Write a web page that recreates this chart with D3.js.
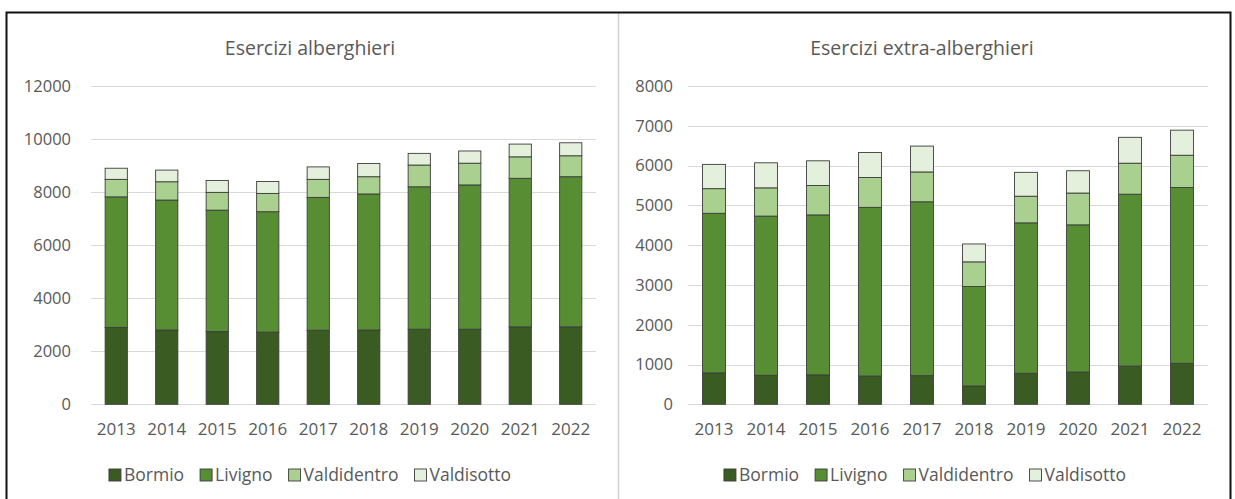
<!DOCTYPE html>
<html>
<head>
<meta charset="utf-8">
<script src="https://cdn.jsdelivr.net/npm/d3@7"></script>
<style>
  html, body { margin: 0; padding: 0; background: #fff; }
  svg { display: block; }
  text { font-family: "Open Sans", "Noto Sans", sans-serif; fill: #595959; }
</style>
</head>
<body>
<svg id="chart" width="1235" height="499"></svg>
<script>
const years = ["2013","2014","2015","2016","2017","2018","2019","2020","2021","2022"];
const seriesNames = ["Bormio", "Livigno", "Valdidentro", "Valdisotto"];
const seriesColors = ["#3a5c22", "#578e34", "#a9d08e", "#e4f0db"];

// Esercizi alberghieri
const albBormio      = [2900, 2800, 2740, 2720, 2790, 2800, 2830, 2830, 2920, 2920];
const albLivigno     = [4920, 4900, 4580, 4540, 5010, 5130, 5370, 5440, 5600, 5660];
const albValdidentro = [660, 690, 670, 690, 680, 650, 820, 820, 810, 790];
const albValdisotto  = [420, 440, 450, 450, 470, 500, 440, 460, 480, 490];
const albTicks = [0, 2000, 4000, 6000, 8000, 10000, 12000];

// Esercizi extra-alberghieri
const extBormio      = [790, 730, 740, 710, 720, 460, 780, 810, 960, 1030];
const extLivigno     = [4010, 4000, 4020, 4240, 4370, 2500, 3780, 3700, 4320, 4420];
const extValdidentro = [620, 710, 740, 750, 750, 620, 670, 800, 780, 810];
const extValdisotto  = [610, 630, 620, 630, 650, 450, 600, 560, 650, 630];
const extTicks = [0, 1000, 2000, 3000, 4000, 5000, 6000, 7000, 8000];

const svg = d3.select("#chart");

// outer frame
svg.append("line").attr("x1", 618.5).attr("x2", 618.5).attr("y1", 13).attr("y2", 499)
  .attr("stroke", "#cfcfcf").attr("stroke-width", 1.5);
svg.append("path").attr("d", "M6.5,499 V12.5 H1230.5 V499")
  .attr("fill", "none").attr("stroke", "#111").attr("stroke-width", 2);

function buildTable(b, l, vd, vs) {
  return years.map((y, i) => ({ year: y, Bormio: b[i], Livigno: l[i], Valdidentro: vd[i], Valdisotto: vs[i] }));
}

function drawChart(cfg) {
  const g = svg.append("g");
  const table = buildTable(...cfg.series);
  const stack = d3.stack().keys(seriesNames)(table);

  const x = d3.scaleBand().domain(years).range([cfg.x0, cfg.x1]).paddingInner(0.56).paddingOuter(0.28);
  const y = d3.scaleLinear().domain([0, d3.max(cfg.ticks)]).range([cfg.yBottom, cfg.yTop]);

  // gridlines
  g.append("g").selectAll("line").data(cfg.ticks).join("line")
    .attr("x1", cfg.x0).attr("x2", cfg.x1)
    .attr("y1", d => Math.round(y(d)) + 0.5).attr("y2", d => Math.round(y(d)) + 0.5)
    .attr("stroke", "#d9d9d9").attr("stroke-width", 1.2);

  // y axis labels
  const yAxis = d3.axisLeft(y).tickValues(cfg.ticks).tickSize(0).tickPadding(0).tickFormat(d3.format("d"));
  const ya = g.append("g").attr("transform", `translate(${cfg.yLabelX},0)`).call(yAxis);
  ya.select(".domain").remove();
  ya.selectAll("text").attr("font-size", 16.5).attr("fill", "#595959").attr("font-family", "Open Sans");

  // x axis labels
  const xAxis = d3.axisBottom(x).tickSize(0).tickPadding(0);
  const xa = g.append("g").attr("transform", `translate(0,${cfg.yBottom + 19})`).call(xAxis);
  xa.select(".domain").remove();
  xa.selectAll("text").attr("font-size", 17).attr("fill", "#595959").attr("font-family", "Open Sans");

  // bars
  g.append("g").selectAll("g").data(stack).join("g")
    .attr("fill", (d, i) => seriesColors[i])
    .selectAll("rect").data(d => d).join("rect")
    .attr("x", d => x(d.data.year))
    .attr("width", x.bandwidth())
    .attr("y", d => y(d[1]))
    .attr("height", d => y(d[0]) - y(d[1]))
    .attr("stroke", "#3c3c3c").attr("stroke-width", 0.9);

  // title
  g.append("text").attr("x", cfg.titleX).attr("y", 55).attr("text-anchor", "middle")
    .attr("font-size", 19.5).text(cfg.title);

  // legend
  const lg = g.append("g");
  const items = lg.selectAll("g").data(seriesNames).join("g");
  items.append("rect").attr("width", 12).attr("height", 12).attr("y", -6)
    .attr("fill", (d, i) => seriesColors[i]).attr("stroke", "#3c3c3c").attr("stroke-width", 0.9);
  items.append("text").attr("x", 15).attr("dy", "0.35em").attr("font-size", 17.5).text(d => d);
  const gap = 16;
  let cx = 0;
  items.each(function () {
    const w = this.getBBox().width;
    d3.select(this).attr("transform", `translate(${cx},0)`);
    cx += w + gap;
  });
  const total = cx - gap;
  lg.attr("transform", `translate(${cfg.legendCenter - total / 2},475)`);
}

drawChart({
  title: "Esercizi alberghieri",
  series: [albBormio, albLivigno, albValdidentro, albValdisotto],
  ticks: albTicks,
  x0: 91, x1: 596, yTop: 86, yBottom: 404.3,
  yLabelX: 71, titleX: 310, legendCenter: 310
});

drawChart({
  title: "Esercizi extra-alberghieri",
  series: [extBormio, extLivigno, extValdidentro, extValdisotto],
  ticks: extTicks,
  x0: 688, x1: 1208, yTop: 86, yBottom: 404.3,
  yLabelX: 673, titleX: 922, legendCenter: 925
});
</script>
</body>
</html>
